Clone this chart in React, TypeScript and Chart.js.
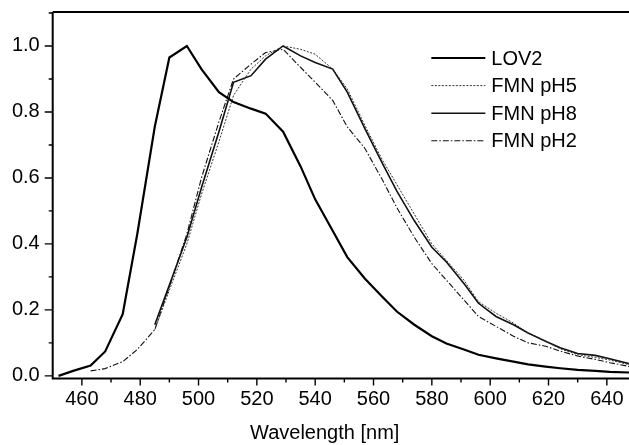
import React, { useEffect, useRef } from "react";
import { Chart, registerables } from "chart.js";

Chart.register(...registerables);

// ---- data ----
const lov2Wavelength = [452, 457, 463, 468, 474, 479, 485, 490, 496, 501, 507, 512, 518, 523, 529, 535, 540, 546, 551, 557, 563, 568, 574, 580, 585, 591, 596, 602, 608, 613, 619, 624, 630, 636, 641, 648];
const lov2Values = [0.0, 0.015, 0.031, 0.074, 0.187, 0.43, 0.755, 0.965, 1.0, 0.93, 0.86, 0.83, 0.81, 0.795, 0.74, 0.635, 0.535, 0.44, 0.36, 0.295, 0.24, 0.195, 0.155, 0.12, 0.098, 0.08, 0.064, 0.053, 0.043, 0.035, 0.028, 0.023, 0.018, 0.015, 0.012, 0.01];

const fmnWavelength = [463, 468, 474, 479, 485, 490, 496, 501, 507, 512, 518, 523, 529, 535, 540, 546, 551, 557, 563, 568, 574, 580, 585, 591, 596, 602, 608, 613, 619, 624, 630, 636, 641, 648];
const fmnPH5 = [null, null, null, null, 0.14, 0.26, 0.4, 0.55, 0.71, 0.85, 0.93, 0.97, 1.0, 0.99, 0.975, 0.93, 0.87, 0.76, 0.655, 0.58, 0.49, 0.4, 0.35, 0.29, 0.225, 0.19, 0.16, 0.13, 0.105, 0.082, 0.064, 0.056, 0.048, 0.033];
const fmnPH8 = [null, null, null, null, 0.155, 0.275, 0.42, 0.57, 0.74, 0.89, 0.91, 0.96, 1.0, 0.97, 0.95, 0.93, 0.86, 0.75, 0.645, 0.56, 0.47, 0.39, 0.345, 0.28, 0.22, 0.18, 0.155, 0.13, 0.105, 0.085, 0.068, 0.062, 0.052, 0.036];
const fmnPH2 = [0.015, 0.022, 0.043, 0.08, 0.14, 0.27, 0.43, 0.6, 0.77, 0.9, 0.945, 0.98, 0.99, 0.935, 0.89, 0.835, 0.755, 0.69, 0.595, 0.51, 0.42, 0.34, 0.29, 0.23, 0.18, 0.15, 0.12, 0.1, 0.09, 0.075, 0.06, 0.05, 0.04, 0.028];

const seriesLabels = ["LOV2", "FMN pH5", "FMN pH8", "FMN pH2"];
const xTitle = "Wavelength [nm]";
const xMajorTicks = [460, 480, 500, 520, 540, 560, 580, 600, 620, 640];
const xMinorTicks = [470, 490, 510, 530, 550, 570, 590, 610, 630];
const yMajorTicks = [0, 0.2, 0.4, 0.6, 0.8, 1.0];
const yMinorTicks = [0.1, 0.3, 0.5, 0.7, 0.9, 1.1];

const FONT = "Liberation Sans, Arial, Helvetica, sans-serif";
const FONT_SIZE = 20;

function pairs(xs: number[], ys: (number | null)[]) {
  const out: { x: number; y: number }[] = [];
  xs.forEach((x, i) => {
    const v = ys[i];
    if (v !== null && v !== undefined) out.push({ x, y: v });
  });
  return out;
}

const framePlugin = {
  id: "frameTicks",
  afterDraw(chart: any) {
    const { ctx, chartArea: a, scales } = chart;
    const xs = scales.x;
    const ys = scales.y;
    ctx.save();
    ctx.strokeStyle = "#000";
    ctx.lineWidth = 2;
    ctx.beginPath();
    ctx.moveTo(a.left, a.top);
    ctx.lineTo(a.right + 2, a.top);
    ctx.moveTo(a.left, a.top);
    ctx.lineTo(a.left, a.bottom);
    ctx.lineTo(a.right + 2, a.bottom);
    ctx.stroke();
    ctx.lineWidth = 1.4;
    ctx.beginPath();
    yMajorTicks.forEach((v) => {
      const p = ys.getPixelForValue(v);
      ctx.moveTo(a.left - 8, p);
      ctx.lineTo(a.left, p);
    });
    yMinorTicks.forEach((v) => {
      const p = ys.getPixelForValue(v);
      ctx.moveTo(a.left - 4, p);
      ctx.lineTo(a.left, p);
    });
    xMajorTicks.forEach((v) => {
      const p = xs.getPixelForValue(v);
      ctx.moveTo(p, a.bottom);
      ctx.lineTo(p, a.bottom + 7);
    });
    xMinorTicks.forEach((v) => {
      const p = xs.getPixelForValue(v);
      ctx.moveTo(p, a.bottom);
      ctx.lineTo(p, a.bottom + 4);
    });
    ctx.stroke();

    // x title
    ctx.fillStyle = "#000";
    ctx.font = `${FONT_SIZE}px ${FONT}`;
    ctx.textAlign = "center";
    ctx.textBaseline = "middle";
    ctx.fillText(xTitle, a.left + (a.right - a.left) * 0.472, a.bottom + 55);

    // legend
    const legendLeft = a.left + (a.right - a.left) * 0.657;
    const lineLen = 54;
    chart.data.datasets.forEach((ds: any, i: number) => {
      const yy = a.top + 46 + i * 27.6;
      ctx.save();
      ctx.strokeStyle = ds.borderColor;
      ctx.lineWidth = ds.borderWidth;
      ctx.setLineDash(ds.borderDash || []);
      ctx.beginPath();
      ctx.moveTo(legendLeft, yy);
      ctx.lineTo(legendLeft + lineLen, yy);
      ctx.stroke();
      ctx.restore();
      ctx.fillStyle = "#000";
      ctx.textAlign = "left";
      ctx.textBaseline = "middle";
      ctx.fillText(ds.label, legendLeft + lineLen + 6, yy + 1);
    });
    ctx.restore();
  },
};

export default function App() {
  const ref = useRef<HTMLCanvasElement | null>(null);
  useEffect(() => {
    if (!ref.current) return;
    const chart = new Chart(ref.current, {
      type: "line",
      data: {
        datasets: [
          {
            label: seriesLabels[0],
            data: pairs(lov2Wavelength, lov2Values),
            borderColor: "#000",
            borderWidth: 2.2,
            pointRadius: 0,
            tension: 0,
          },
          {
            label: seriesLabels[1],
            data: pairs(fmnWavelength, fmnPH5),
            borderColor: "#333",
            borderWidth: 1,
            borderDash: [2, 1.5],
            pointRadius: 0,
            tension: 0,
          },
          {
            label: seriesLabels[2],
            data: pairs(fmnWavelength, fmnPH8),
            borderColor: "#111",
            borderWidth: 1.6,
            pointRadius: 0,
            tension: 0,
          },
          {
            label: seriesLabels[3],
            data: pairs(fmnWavelength, fmnPH2),
            borderColor: "#111",
            borderWidth: 1.1,
            borderDash: [6, 2, 1.5, 2],
            pointRadius: 0,
            tension: 0,
          },
        ],
      },
      options: {
        responsive: false,
        animation: false,
        layout: { padding: { left: 0, top: 12, right: 0, bottom: 0 } },
        plugins: { legend: { display: false }, tooltip: { enabled: false } },
        scales: {
          x: {
            type: "linear",
            min: 450,
            max: 647.6,
            grid: { display: false, drawTicks: false },
            border: { display: false },
            ticks: {
              stepSize: 20,
              includeBounds: false,
              padding: 9,
              color: "#000",
              font: { family: FONT, size: FONT_SIZE },
              maxRotation: 0,
              autoSkip: false,
              callback: (v: any) => String(v),
            },
            afterFit: (s: any) => {
              s.height = 66.5;
              s.paddingLeft = 0;
              s.paddingRight = 0;
            },
          },
          y: {
            type: "linear",
            min: -0.008,
            max: 1.103,
            grid: { display: false, drawTicks: false },
            border: { display: false },
            ticks: {
              stepSize: 0.2,
              includeBounds: false,
              padding: 13,
              color: "#000",
              font: { family: FONT, size: FONT_SIZE },
              callback: (v: any) => Number(v).toFixed(1),
            },
            afterFit: (s: any) => {
              s.width = 52.7;
              s.paddingTop = 0;
              s.paddingBottom = 0;
            },
          },
        },
      },
      plugins: [framePlugin],
    });
    return () => chart.destroy();
  }, []);
  return (
    <div style={{ position: "absolute", left: 0, top: 0, width: 629, height: 445, overflow: "hidden", background: "#fff" }}>
      <canvas ref={ref} width={629} height={445} style={{ display: "block" }} />
    </div>
  );
}
